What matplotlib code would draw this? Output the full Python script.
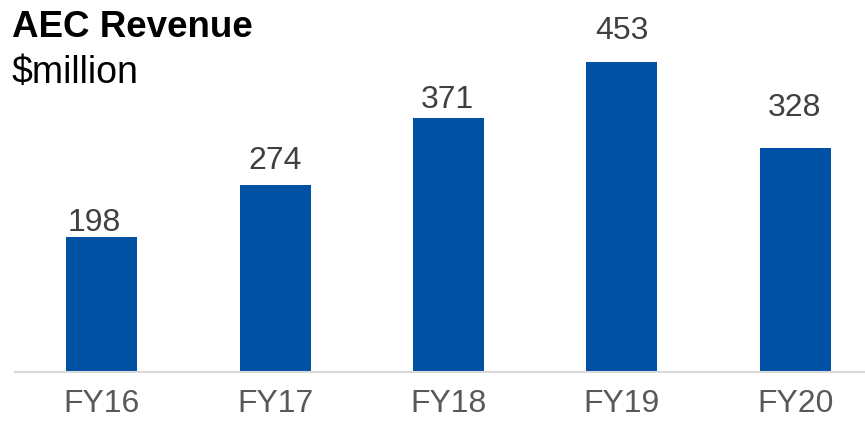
import matplotlib
matplotlib.use('Agg')
import matplotlib.pyplot as plt

plt.rcParams['font.family'] = ['Liberation Sans', 'DejaVu Sans']

# data
years = ['FY16', 'FY17', 'FY18', 'FY19', 'FY20']
revenue = [198, 274, 371, 453, 328]

# hand-placed value labels in the original: (dx, gap above bar) in pixels
label_offsets = [(-7.5, 6), (0, 16), (-1, 10), (0, 23), (-1, 32)]

W, H = 865, 422
fig = plt.figure(figsize=(W / 100, H / 100), dpi=100)

# axes placed in pixels: baseline at y=372 from top, 0.684 px per $m
ax = fig.add_axes([15 / W, 50 / H, 850 / W, 372 / H])
x = range(len(years))
bars = ax.bar(x, revenue, width=0.41, color='#0050A4', zorder=2)

ax.set_xlim(-0.5, 4.403)
ax.set_ylim(0, 372 / 0.684)

for rect, v, (dx, dy) in zip(bars, revenue, label_offsets):
    ax.annotate(str(v), (rect.get_x() + rect.get_width() / 2, v),
                xytext=(dx * 0.72, dy * 0.72), textcoords='offset points',
                ha='center', va='baseline', fontsize=23, color='#404040')

ax.set_xticks(list(x))
ax.set_xticklabels(years, fontsize=23, color='#595959')
ax.tick_params(axis='x', length=0, pad=12.5)
ax.set_yticks([])
for side in ['top', 'right', 'left']:
    ax.spines[side].set_visible(False)
ax.spines['bottom'].set_color('#D9D9D9')
ax.spines['bottom'].set_linewidth(1.5)

fig.text(12 / W, 1 - 37 / H, 'AEC Revenue', fontsize=26.5, fontweight='bold',
         color='black', ha='left', va='baseline')
fig.text(12 / W, 1 - 83 / H, '$million', fontsize=27, color='black',
         ha='left', va='baseline')

fig.savefig('out.png', dpi=100)
